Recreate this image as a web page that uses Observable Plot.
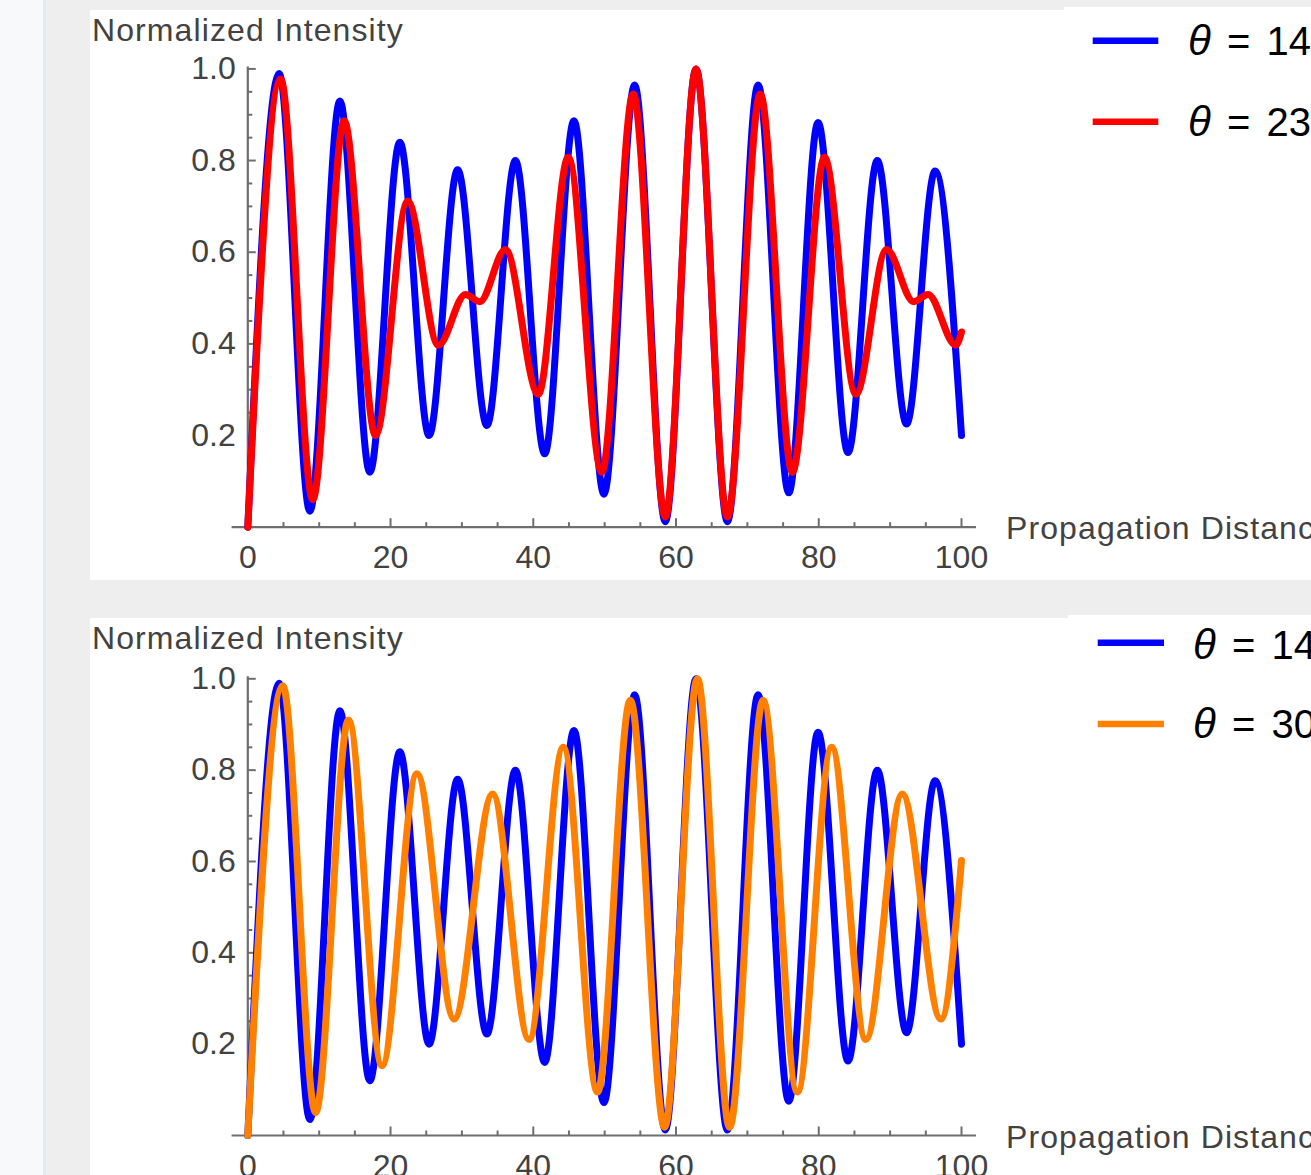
<!DOCTYPE html>
<html>
<head>
<meta charset="utf-8">
<script src="https://cdn.jsdelivr.net/npm/d3@7"></script>
<script src="https://cdn.jsdelivr.net/npm/@observablehq/plot@0.6"></script>
<style>
  html, body { margin:0; padding:0; width:1311px; height:1175px; overflow:hidden; background:#eeeeee;
    font-family:"Liberation Sans", Arial, sans-serif; }
  .abs { position:absolute; }
  #strip { left:0; top:0; width:43px; height:1175px; background:#f8f9fb; border-right:3px solid #dfeaf6; }
  .panel { background:#ffffff; }
</style>
</head>
<body>
<div class="abs" id="strip"></div>
<div class="abs panel" style="left:90px;top:10px;width:974px;height:570px"></div>
<div class="abs panel" style="left:1064px;top:7px;width:247px;height:573px"></div>
<div class="abs panel" style="left:90px;top:618px;width:978px;height:557px"></div>
<div class="abs panel" style="left:1068px;top:615px;width:243px;height:560px"></div>
<div id="plotTop" class="abs" style="left:0;top:0;width:1311px"></div>
<div id="plotBottom" class="abs" style="left:0;top:610px;width:1311px"></div>
<svg id="legends" class="abs" style="left:0;top:0" width="1311" height="1175"></svg>
<script>
// ---------- data ----------
const xLabel = "Propagation Distance";
const yLabel = "Normalized Intensity";
const xMajorTicks = [0, 20, 40, 60, 80, 100];
const xMinorTicks = [5, 10, 15, 25, 30, 35, 45, 50, 55, 65, 70, 75, 85, 90, 95];
const yMajorTicks = [0.2, 0.4, 0.6, 0.8, 1.0];
const yMinorTicks = [0.05, 0.1, 0.15, 0.25, 0.3, 0.35, 0.45, 0.5, 0.55, 0.65, 0.7, 0.75, 0.85, 0.9, 0.95];

// theta = 14 (blue), extrema of the curve
const distance14 = [0, 4.4, 8.7, 12.9, 17.1, 21.3, 25.4, 29.4, 33.5, 37.5, 41.6, 45.7, 49.9, 54.2, 58.5, 62.8, 67.2, 71.5, 75.8, 79.9, 84.1, 88.2, 92.3, 96.3, 100];
const intensity14 = [0, 0.99, 0.035, 0.93, 0.12, 0.84, 0.2, 0.78, 0.222, 0.8, 0.16, 0.887, 0.072, 0.965, 0.012, 1.0, 0.012, 0.965, 0.075, 0.883, 0.163, 0.8, 0.225, 0.777, 0.2];

// theta = 23 (red)
const distance23 = [0, 4.6, 9.1, 13.5, 17.9, 22.4, 26.7, 30.5, 32.5, 36.1, 40.7, 44.9, 49.6, 54.0, 58.5, 62.8, 67.2, 71.8, 76.3, 80.8, 85.2, 89.5, 93.3, 95.3, 99.2, 100];
const intensity23 = [0, 0.978, 0.06, 0.887, 0.2, 0.712, 0.397, 0.508, 0.492, 0.606, 0.29, 0.807, 0.12, 0.945, 0.022, 1.0, 0.022, 0.945, 0.12, 0.807, 0.29, 0.606, 0.492, 0.508, 0.397, 0.426];

// theta = 30 (orange)
const distance30 = [0, 4.9, 9.5, 14.1, 18.8, 23.7, 28.9, 34.3, 39.4, 44.2, 49.0, 53.6, 58.4, 63.0, 67.5, 72.2, 77.0, 81.8, 86.6, 91.7, 97.1, 100];
const intensity30 = [0, 0.985, 0.05, 0.91, 0.153, 0.792, 0.255, 0.748, 0.21, 0.85, 0.095, 0.953, 0.018, 1.0, 0.018, 0.953, 0.095, 0.85, 0.21, 0.748, 0.255, 0.602];

const topSeries = [
  {label: "14°", color: "#0000ff", x: distance14, y: intensity14},
  {label: "23°", color: "#ff0000", x: distance23, y: intensity23}
];
const bottomSeries = [
  {label: "14°", color: "#0000ff", x: distance14, y: intensity14},
  {label: "30°", color: "#ff8000", x: distance30, y: intensity30}
];

// ---------- drawing ----------
const AXIS = "#6e6e6e", TEXT = "#424242", FONT = "Liberation Sans, Arial, sans-serif";
const W = 1311, xL = 247.3, xR = 961;

function makePlot(series, height, y0, y1) {
  const pxY = y0 - y1;            // pixels per intensity unit
  const pxX = (xR - xL) / 100;    // pixels per distance unit
  const lines = series.map(s =>
    Plot.line(s.x.map((d, i) => ({d, v: s.y[i]})),
      {x: "d", y: "v", stroke: s.color, strokeWidth: 7, curve: "monotone-x", strokeLinejoin: "round"}));
  return Plot.plot({
    width: W, height,
    marginLeft: xL, marginRight: W - xR, marginTop: y1, marginBottom: height - y0,
    x: {domain: [0, 100], axis: null},
    y: {domain: [0, 1], axis: null},
    style: {background: "transparent", fontFamily: FONT, overflow: "visible"},
    marks: [
      Plot.ruleY([0], {x1: -2.2, x2: 102.1, stroke: AXIS, strokeWidth: 2.2}),
      Plot.ruleX([0], {y1: 0, y2: 1 + 2 / pxY, stroke: AXIS, strokeWidth: 2.2}),
      Plot.ruleX(xMajorTicks, {x: d => d, y1: 0, y2: 8.5 / pxY, stroke: AXIS, strokeWidth: 2}),
      Plot.ruleX(xMinorTicks, {x: d => d, y1: 0, y2: 4.5 / pxY, stroke: AXIS, strokeWidth: 2}),
      Plot.ruleY(yMajorTicks, {y: d => d, x1: 0, x2: 8.5 / pxX, stroke: AXIS, strokeWidth: 2}),
      Plot.ruleY(yMinorTicks, {y: d => d, x1: 0, x2: 5 / pxX, stroke: AXIS, strokeWidth: 2}),
      Plot.text(xMajorTicks, {x: d => d, y: 0, dy: 31, text: d => String(d), fontSize: 32, fill: TEXT}),
      Plot.text(yMajorTicks, {x: 0, y: d => d, dx: -12, textAnchor: "end", text: d => d.toFixed(1), fontSize: 32, fill: TEXT}),
      ...lines
    ]
  });
}

function addLabels(svg, yBase, xBase) {
  const s = d3.select(svg);
  s.append("text").attr("x", 92).attr("y", yBase).attr("font-size", 32).attr("letter-spacing", "1.1px")
    .attr("text-anchor", "start").attr("fill", TEXT).attr("font-family", FONT).text(yLabel);
  s.append("text").attr("x", 1006).attr("y", xBase).attr("font-size", 32).attr("letter-spacing", "1.1px")
    .attr("text-anchor", "start").attr("fill", TEXT).attr("font-family", FONT).text(xLabel);
}

const p1 = makePlot(topSeries, 580, 526.7, 68.4);
addLabels(p1, 40.7, 539.3);
document.getElementById("plotTop").appendChild(p1);

const p2 = makePlot(bottomSeries, 565, 525, 68.3);
addLabels(p2, 39, 537.6);
document.getElementById("plotBottom").appendChild(p2);

// legends
const leg = d3.select("#legends");
function legend(series, lx1, lx2, tx, lineYs, baseYs) {
  series.forEach((s, i) => {
    leg.append("line").attr("x1", lx1).attr("x2", lx2).attr("y1", lineYs[i]).attr("y2", lineYs[i])
      .attr("stroke", s.color).attr("stroke-width", 6.5);
    const t = leg.append("text").attr("x", tx).attr("y", baseYs[i]).attr("font-size", 40)
      .attr("font-family", FONT).attr("fill", "#000").attr("word-spacing", "5px");
    t.append("tspan").attr("font-style", "italic").attr("font-size", 42).text("θ");
    t.append("tspan").text(" = " + s.label);
  });
}
legend(topSeries, 1092.7, 1158.3, 1188, [40.7, 121.7], [55, 136]);
legend(bottomSeries, 1097.7, 1164, 1193, [642.7, 724], [659, 738]);
</script>
</body>
</html>
